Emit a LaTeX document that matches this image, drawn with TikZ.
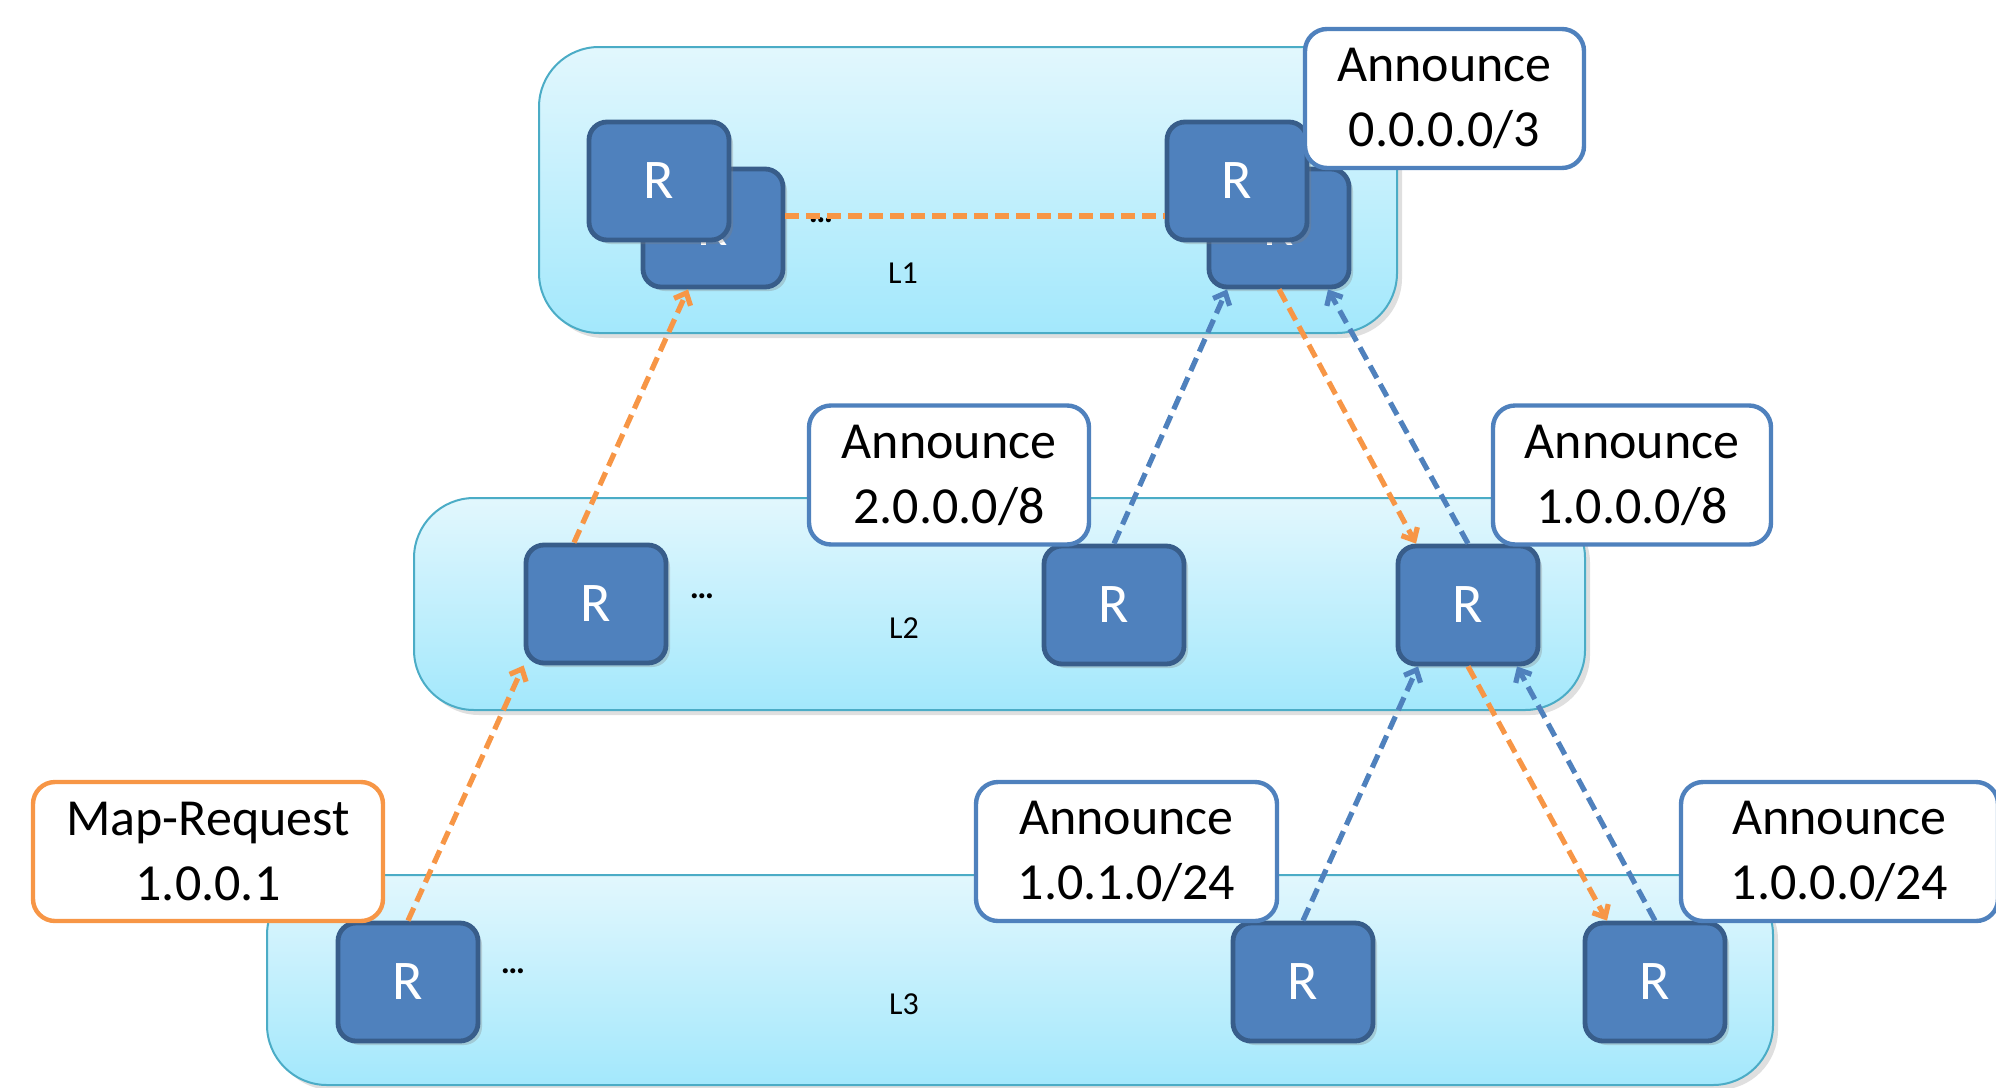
\documentclass[tikz,border=0pt]{standalone}
\usepackage{fontspec}
\setmainfont{Carlito}
\usetikzlibrary{arrows.meta,calc,shadows}

\definecolor{rfill}{RGB}{79,129,189}
\definecolor{rdraw}{RGB}{56,93,138}
\definecolor{lyrtop}{RGB}{226,247,253}
\definecolor{lyrbot}{RGB}{163,232,252}
\definecolor{lyrdraw}{RGB}{75,172,198}
\definecolor{annblue}{RGB}{79,129,189}
\definecolor{reqorange}{RGB}{247,150,70}

\tikzset{
  layer/.style={draw=lyrdraw, line width=1pt, top color=lyrtop, bottom color=lyrbot,
    rounded corners=30pt, inner sep=0pt,
    drop shadow={shadow xshift=2.5pt, shadow yshift=-2.5pt, opacity=0.25}},
  router/.style={draw=rdraw, line width=2.4pt, fill=rfill, rounded corners=9pt,
    minimum width=70pt, minimum height=59pt, inner sep=0pt, text=white,
    font=\fontsize{28}{34}\selectfont,
    drop shadow={shadow xshift=2pt, shadow yshift=-2pt, opacity=0.3}},
  msgbox/.style={draw=annblue, line width=2.2pt, fill=white, rounded corners=11pt,
    minimum height=69.5pt, inner sep=0pt, align=center,
    font=\fontsize{26}{32.5}\selectfont},
  reqbox/.style={msgbox, draw=reqorange},
  lvl/.style={inner sep=0pt, font=\fontsize{16}{19}\selectfont},
  more/.style={inner sep=0pt, font=\bfseries\fontsize{17}{20}\selectfont},
  flow/.style={line width=2.6pt, dash pattern=on 7pt off 3.5pt},
  reqline/.style={flow, draw=reqorange},
  req/.style={reqline, -{Straight Barb[length=5pt,width=9pt]}},
  annline/.style={flow, draw=annblue},
  ann/.style={annline, -{Straight Barb[length=5pt,width=9pt]}}
}

\begin{document}
\begin{tikzpicture}[x=0.5pt,y=-0.5pt]
\useasboundingbox (0,0) rectangle (1996,1087);

% hierarchy levels
\node[layer, minimum width=429pt, minimum height=143pt] (lay1) at (968,190) {};
\node[layer, minimum width=585.5pt, minimum height=106pt] (lay2) at (999.5,604) {};
\node[layer, minimum width=753pt, minimum height=105pt] (lay3) at (1020,980) {};

% level labels and "more routers" marks
\node[lvl] (l1) at (903,273) {L1};
\node[lvl] (l2) at (904,628) {L2};
\node[lvl] (l3) at (904,1004) {L3};
\node[more] (m1) at (821,220) {…};
\node[more] (m2) at (702,596) {…};
\node[more] (m3) at (513,971) {…};

% routers: stacked pairs on L1
\node[router] (L1aback) at (713,228) {R};
\node[router] (L1a) at (659,181) {R};
\node[router] (L1bback) at (1279,228) {R};
\node[router] (L1b) at (1237,181) {R};

\node[router] (L2a) at (596,604) {R};
\node[router] (L2b) at (1114,605) {R};
\node[router] (L2c) at (1468,605) {R};

\node[router] (L3a) at (408,982) {R};
\node[router] (L3b) at (1303,982) {R};
\node[router] (L3c) at (1655,982) {R};

% map-request path
\draw[req] (L3a.north) -- (L2a.south west);
\draw[req] ($(L2a.north)+(-22,0)$) -- ($(L1aback.south)+(-25,0)$);
\draw[reqline] ($(L1aback.east)+(0,-12)$) -- ($(L1b.west)+(0,35)$);
\draw[req] (L1bback.south) -- ($(L2c.north)+(-52,0)$);
\draw[req] (L2c.south) -- ($(L3c.north)+(-48,0)$);

% announcements
\draw[ann] (L2b.north) -- ($(L1bback.south)+(-52,0)$);
\draw[ann] (L2c.north) -- ($(L1bback.south)+(49,0)$);
\draw[ann] (L3b.north) -- ($(L2c.south)+(-50,0)$);
\draw[ann] (L3c.north) -- ($(L2c.south)+(49,0)$);

% message boxes
\node[msgbox, minimum width=139.5pt] (a0) at (1444.5,98.5) {Announce\\0.0.0.0/3};
\node[msgbox, minimum width=140pt] (a2) at (949,475) {Announce\\2.0.0.0/8};
\node[msgbox, minimum width=139pt] (a18) at (1632,475) {Announce\\1.0.0.0/8};
\node[reqbox, minimum width=175pt] (mr) at (208,851.5) {Map-Request\\1.0.0.1};
\node[msgbox, minimum width=150.5pt] (a101) at (1126.5,851.5) {Announce\\1.0.1.0/24};
\node[msgbox, minimum width=158.5pt] (a100) at (1839.5,851.5) {Announce\\1.0.0.0/24};
\end{tikzpicture}
\end{document}
